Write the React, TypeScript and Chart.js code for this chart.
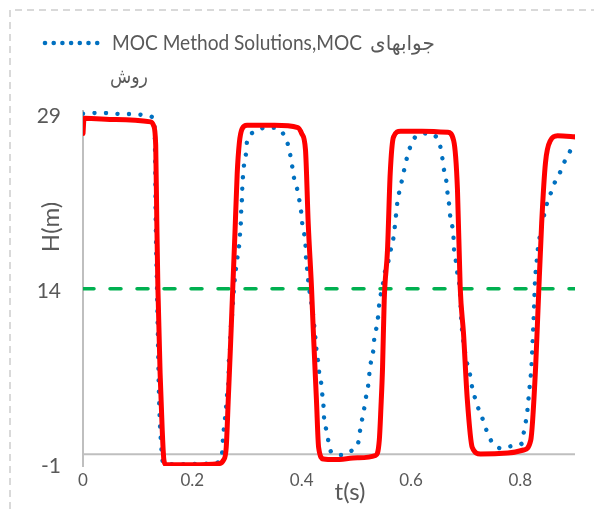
import React, { useEffect, useRef } from "react";
import { Chart, registerables } from "chart.js";
Chart.register(...registerables);

const xTicks = [0, 0.2, 0.4, 0.6, 0.8];
const yTicks = [-1, 14, 29];
const xTitle = "t(s)";
const yTitle = "H(m)";
const legendLatin = "MOC Method Solutions,MOC";
const legendPersian1 = "جوابهای";
const legendPersian2 = "روش";

// Red (solid) series
const redT = [0, 0.002, 0.06, 0.124, 0.129, 0.133, 0.135, 0.137, 0.141, 0.145, 0.148, 0.152, 0.2, 0.248, 0.257, 0.262, 0.266, 0.27, 0.274, 0.278, 0.282, 0.286, 0.291, 0.3, 0.35, 0.393, 0.4, 0.407, 0.412, 0.418, 0.421, 0.427, 0.431, 0.44, 0.46, 0.502, 0.535, 0.542, 0.545, 0.548, 0.551, 0.557, 0.562, 0.568, 0.581, 0.62, 0.667, 0.678, 0.685, 0.69, 0.696, 0.703, 0.712, 0.727, 0.777, 0.806, 0.819, 0.828, 0.833, 0.839, 0.846, 0.855, 0.868, 0.904];
const redH = [27.5, 28.8, 28.7, 28.5, 28.2, 26.5, 20, 14.3, 7, 2, -0.5, -0.9, -0.9, -0.8, -0.5, 0.6, 5, 9.5, 14.3, 19, 24, 26.7, 27.9, 28.2, 28.2, 28.0, 27.5, 26.1, 19.8, 14.3, 10.9, 4.7, 0.6, -0.4, -0.45, -0.3, -0.1, 1.2, 4, 7.5, 13.2, 17.5, 24.1, 27.2, 27.7, 27.7, 27.6, 26.9, 22.7, 14.3, 10.4, 4.7, 0.6, 0.03, 0.11, 0.37, 1.2, 7.5, 13.2, 19.8, 25, 26.9, 27.3, 27.2];

// Blue (dotted) series: MOC method solutions
const blueT = [0, 0.026, 0.046, 0.068, 0.088, 0.11, 0.128, 0.131, 0.132, 0.133, 0.135, 0.137, 0.139, 0.142, 0.147, 0.175, 0.2, 0.242, 0.251, 0.255, 0.256, 0.258, 0.26, 0.262, 0.264, 0.266, 0.2665, 0.267, 0.269, 0.2695, 0.271, 0.273, 0.275, 0.278, 0.282, 0.286, 0.2875, 0.289, 0.2895, 0.291, 0.2915, 0.293, 0.295, 0.2985, 0.3, 0.313, 0.333, 0.352, 0.366, 0.374, 0.379, 0.383, 0.386, 0.392, 0.396, 0.399, 0.401, 0.405, 0.407, 0.408, 0.41, 0.412, 0.414, 0.421, 0.425, 0.427, 0.43, 0.432, 0.436, 0.438, 0.44, 0.441, 0.445, 0.449, 0.454, 0.473, 0.491, 0.504, 0.507, 0.511, 0.515, 0.518, 0.522, 0.524, 0.527, 0.531, 0.533, 0.537, 0.54, 0.542, 0.549, 0.553, 0.56, 0.564, 0.568, 0.573, 0.575, 0.579, 0.584, 0.588, 0.593, 0.599, 0.61, 0.63, 0.648, 0.654, 0.658, 0.661, 0.665, 0.667, 0.67, 0.672, 0.676, 0.678, 0.679, 0.683, 0.685, 0.689, 0.69, 0.691, 0.692, 0.694, 0.703, 0.709, 0.712, 0.718, 0.725, 0.733, 0.74, 0.749, 0.766, 0.784, 0.802, 0.806, 0.81, 0.813, 0.815, 0.817, 0.819, 0.8205, 0.8215, 0.8225, 0.8235, 0.8245, 0.8255, 0.8265, 0.828, 0.83, 0.832, 0.835, 0.839, 0.848, 0.855, 0.863, 0.872, 0.881, 0.89, 0.9];
const blueH = [29.2, 29.26, 29.26, 29.17, 29.17, 29.1, 28.9, 28.0, 25, 20, 15, 10, 5, 1.5, -0.8, -0.85, -0.83, -0.74, -0.49, 0.37, 1.3, 2.3, 3.2, 4.2, 5.3, 6.2, 7.2, 8.3, 9.1, 10.1, 11.2, 12.1, 13.5, 15.2, 16.7, 18.1, 19.1, 20.1, 21.1, 22.1, 23.0, 24.0, 25.0, 25.9, 26.8, 27.6, 28.0, 28.0, 27.5, 26.7, 25.7, 24.6, 23.7, 22.7, 21.7, 20.8, 19.8, 18.8, 17.9, 16.8, 15.9, 14.9, 14.1, 11.9, 10.0, 9.0, 8.0, 7.0, 6.0, 5.0, 4.1, 3.1, 2.1, 1.1, 0.2, -0.06, 0.3, 1.1, 2.1, 3.1, 4.1, 5.0, 6.0, 7.0, 8.0, 8.9, 10.0, 10.9, 11.9, 12.9, 14.7, 15.8, 16.8, 17.8, 18.6, 20.7, 21.6, 22.6, 23.6, 24.5, 25.5, 26.4, 27.3, 27.5, 27.1, 26.3, 25.2, 24.2, 23.3, 22.3, 21.3, 20.3, 19.4, 18.4, 17.3, 16.4, 15.4, 14.3, 13.4, 12.5, 11.5, 10.4, 7.7, 6.6, 5.7, 4.7, 3.7, 2.8, 1.8, 1.0, 0.5, 0.7, 0.9, 1.8, 2.8, 3.8, 4.8, 5.8, 6.7, 7.7, 8.7, 9.6, 10.7, 11.8, 13.2, 14.5, 15.6, 16.6, 17.6, 18.5, 19.5, 21.4, 22.3, 23.3, 24.1, 25.1, 25.9, 26.8];

// Green (dashed) reference line
const greenT = [0, 0.9];
const greenH = [14.2, 14.2];

const FONT = "Lato, 'Open Sans', sans-serif";
const TEXT = "#595959";

const toPts = (t: number[], h: number[]) => t.map((x, i) => ({ x, y: h[i] }));

const decor = {
  id: "decor",
  beforeDraw(chart: any) {
    const { ctx, width, height } = chart;
    ctx.save();
    ctx.strokeStyle = "#d9d9d9";
    ctx.lineWidth = 2;
    ctx.setLineDash([7, 5]);
    ctx.beginPath();
    ctx.moveTo(10, height);
    ctx.lineTo(10, 10);
    ctx.lineTo(width, 10);
    ctx.stroke();
    ctx.restore();
  },
  beforeDatasetsDraw(chart: any) {
    const { ctx, chartArea } = chart;
    const y0 = chart.scales.y.getPixelForValue(0);
    ctx.save();
    ctx.strokeStyle = "#bfbfbf";
    ctx.lineWidth = 2;
    ctx.beginPath();
    ctx.moveTo(chartArea.left, y0);
    ctx.lineTo(chartArea.right, y0);
    ctx.stroke();
    ctx.restore();
  },
  afterDraw(chart: any) {
    const { ctx } = chart;
    ctx.save();
    // legend marker
    ctx.fillStyle = "#0070c0";
    for (let i = 0; i < 7; i++) {
      ctx.beginPath();
      ctx.arc(45 + i * 8.7, 43, 2.3, 0, Math.PI * 2);
      ctx.fill();
    }
    ctx.fillStyle = TEXT;
    ctx.textAlign = "left";
    ctx.textBaseline = "alphabetic";
    ctx.font = `21px ${FONT}`;
    ctx.fillText(legendLatin, 112, 50, 250);
    ctx.font = `20px 'DejaVu Sans', ${FONT}`;
    try { (ctx as any).letterSpacing = "3px"; } catch (e) {}
    ctx.fillText(legendPersian1, 370, 50, 88);
    ctx.fillText(legendPersian2, 110, 83, 38);
    try { (ctx as any).letterSpacing = "0px"; } catch (e) {}
    // axis titles
    ctx.font = `24px ${FONT}`;
    ctx.textAlign = "center";
    ctx.textBaseline = "middle";
    ctx.fillText(xTitle, 350, 492);
    ctx.translate(51, 227);
    ctx.rotate(-Math.PI / 2);
    ctx.fillText(yTitle, 0, 0);
    ctx.restore();
  },
};

export default function App() {
  const ref = useRef<HTMLCanvasElement>(null);
  useEffect(() => {
    const chart = new Chart(ref.current as HTMLCanvasElement, {
      type: "scatter",
      data: {
        datasets: [
          {
            data: toPts(redT, redH),
            showLine: true,
            borderColor: "#ff0000",
            borderWidth: 5,
            borderJoinStyle: "round",
            borderCapStyle: "round",
            cubicInterpolationMode: "monotone",
            pointRadius: 0,
          },
          {
            data: toPts(blueT, blueH),
            showLine: true,
            borderColor: "#0070c0",
            borderWidth: 4.4,
            borderDash: [0.01, 11.5],
            borderCapStyle: "round",
            cubicInterpolationMode: "monotone",
            pointRadius: 0,
          },
          {
            data: toPts(greenT, greenH),
            showLine: true,
            borderColor: "#00b050",
            borderWidth: 3.5,
            borderDash: [11, 16],
            borderCapStyle: "round",
            pointRadius: 0,
          },
        ],
      } as any,
      options: {
        responsive: false,
        animation: false,
        layout: { padding: { left: 0, top: 111, right: 19, bottom: 0 } },
        plugins: { legend: { display: false }, tooltip: { enabled: false } },
        scales: {
          x: {
            type: "linear",
            min: 0,
            max: 0.9,
            grid: { display: false, drawTicks: false },
            border: { display: false },
            ticks: {
              color: TEXT,
              font: { family: FONT, size: 17 },
              padding: 4,
              maxRotation: 0,
              autoSkip: false,
              callback: (v: any) => String(v),
            },
            afterBuildTicks: (s: any) => {
              s.ticks = xTicks.map((value) => ({ value }));
            },
            afterFit: (s: any) => {
              s.height = 43;
            },
          },
          y: {
            type: "linear",
            min: -1,
            max: 29.43,
            grid: { display: false, drawTicks: false },
            border: { display: true, color: "#bfbfbf", width: 2 },
            ticks: {
              color: TEXT,
              font: { family: FONT, size: 21 },
              padding: 22,
              autoSkip: false,
              callback: (v: any) => String(v),
            },
            afterBuildTicks: (s: any) => {
              s.ticks = yTicks.map((value) => ({ value }));
            },
            afterFit: (s: any) => {
              s.width = 83;
            },
          },
        },
      } as any,
      plugins: [decor],
    });
    return () => chart.destroy();
  }, []);
  return (
    <div style={{ position: "absolute", left: 0, top: 0, width: 594, height: 509, background: "#fff" }}>
      <canvas ref={ref} width={594} height={509} style={{ width: 594, height: 509, display: "block" }} />
    </div>
  );
}
